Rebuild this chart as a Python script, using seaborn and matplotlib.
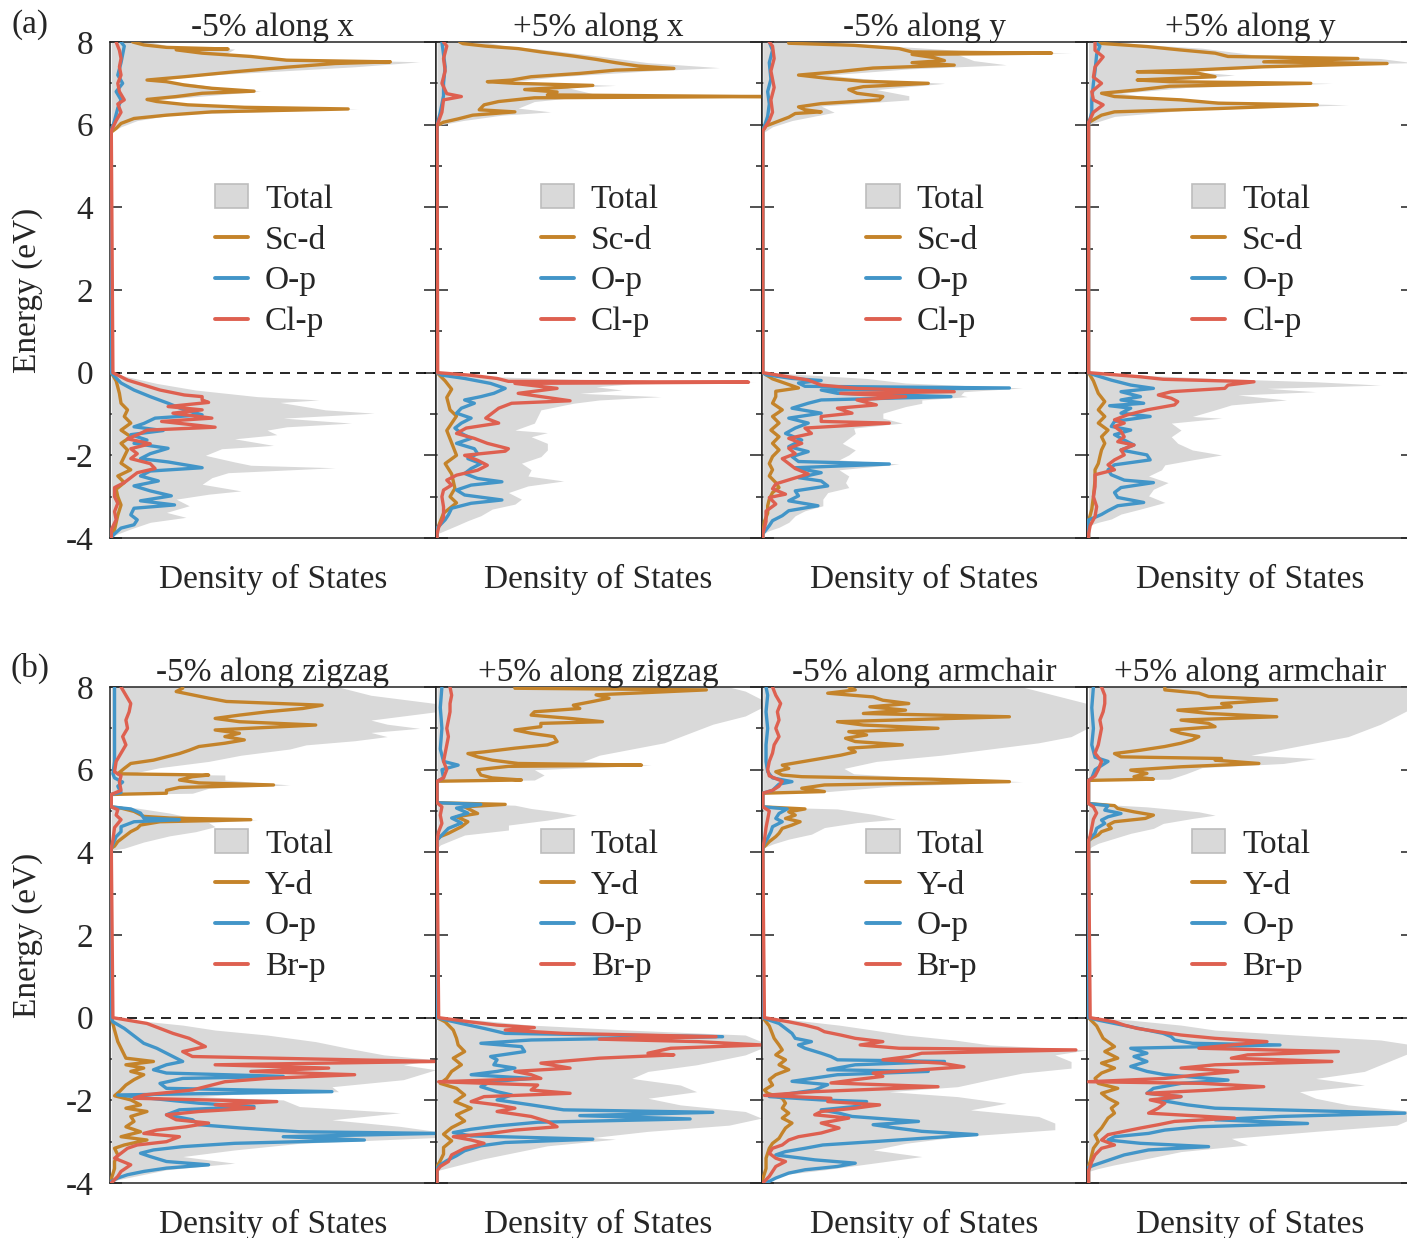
import numpy as np
import pandas as pd
import matplotlib
matplotlib.use("Agg")
import matplotlib.pyplot as plt
from matplotlib.ticker import MultipleLocator
from matplotlib.patches import Patch
from matplotlib.lines import Line2D
import seaborn as sns

sns.set_style("white")
plt.rcParams["font.family"] = ["Liberation Serif", "DejaVu Serif"]
plt.rcParams["axes.unicode_minus"] = False

# ---------------------------------------------------------------- data
# each list: (energy in eV, density of states in arbitrary units)
# ---- (a) ScOCl ----
a1_tot_vb = [(0, 0), (-0.1, 0.5), (-0.26, 1.4), (-0.42, 2.6), (-0.58, 4.5), (-0.66, 6.4), (-0.72, 5.2), (-0.9, 6.6),
             (-0.98, 8.1), (-1.1, 5.3), (-1.22, 7.4), (-1.31, 5.4), (-1.39, 4.8), (-1.5, 5.1), (-1.6, 3.8), (-1.76, 5.0),
             (-1.84, 3.4), (-2.0, 2.9), (-2.16, 3.8), (-2.24, 4.3), (-2.3, 6.9), (-2.42, 3.6), (-2.54, 3.1), (-2.7, 2.8),
             (-2.86, 4.0), (-2.94, 3.0), (-3.06, 2.0), (-3.22, 2.4), (-3.38, 1.7), (-3.5, 2.3), (-3.62, 1.2),
             (-3.78, 0.6), (-3.9, 0.2), (-3.98, 0)]
a1_tot_cb = [(5.82, 0), (5.95, 0.3), (6.1, 0.8), (6.25, 2.0), (6.38, 7.6), (6.45, 3.0), (6.6, 1.4), (6.81, 4.6),
             (6.9, 3.3), (7.0, 2.4), (7.08, 1.4), (7.2, 3.0), (7.4, 7.5), (7.52, 9.5), (7.6, 5.5), (7.7, 3.5),
             (7.83, 3.8), (7.9, 1.8), (8.0, 1.2)]
a1_d_vb = [(0, 0), (-0.2, 0.15), (-0.5, 0.25), (-0.74, 0.3), (-0.9, 0.5), (-1.06, 0.4), (-1.22, 0.6), (-1.39, 0.3),
           (-1.55, 0.6), (-1.71, 0.3), (-1.87, 0.5), (-2.03, 0.4), (-2.19, 0.3), (-2.35, 0.6), (-2.5, 0.2),
           (-2.66, 0.4), (-2.82, 0.15), (-3.0, 0.2), (-3.2, 0.3), (-3.45, 0.2), (-3.8, 0.1), (-3.95, 0)]
a1_d_cb = [(5.82, 0.0), (5.91, 0.15), (6.03, 0.3), (6.15, 0.7), (6.23, 1.7), (6.31, 3.1), (6.38, 7.3), (6.42, 4.1),
           (6.48, 2.35), (6.56, 1.4), (6.61, 1.1), (6.68, 2.0), (6.76, 2.8), (6.81, 4.4), (6.88, 3.1), (6.96, 2.25),
           (7.04, 1.7), (7.08, 1.1), (7.16, 2.25), (7.28, 3.8), (7.39, 5.4), (7.48, 6.9), (7.52, 8.6), (7.56, 5.4),
           (7.65, 4.3), (7.73, 2.8), (7.81, 2.0), (7.83, 3.6), (7.87, 1.7), (7.93, 1.0), (8.0, 0.66)]
a1_o_vb = [(0, 0), (-0.05, 0.05), (-0.25, 0.3), (-0.42, 0.7), (-0.58, 1.2), (-0.74, 1.75), (-0.9, 2.25), (-1.02, 2.8),
           (-1.1, 1.35), (-1.23, 1.0), (-1.31, 0.7), (-1.4, 1.6), (-1.5, 0.6), (-1.63, 1.1), (-1.71, 0.7), (-1.83, 1.75),
           (-1.96, 1.2), (-2.08, 0.9), (-2.16, 1.75), (-2.3, 2.8), (-2.38, 1.2), (-2.5, 0.9), (-2.62, 1.45),
           (-2.74, 0.7), (-2.86, 1.2), (-2.98, 1.85), (-3.1, 0.9), (-3.2, 1.95), (-3.28, 0.7), (-3.44, 0.6),
           (-3.56, 0.8), (-3.68, 0.7), (-3.76, 0.3), (-3.9, 0.1), (-3.98, 0)]
a1_o_cb = [(5.85, 0), (6.1, 0.1), (6.4, 0.2), (6.6, 0.3), (6.8, 0.15), (7.0, 0.35), (7.2, 0.2), (7.5, 0.3), (7.7, 0.35),
           (7.9, 0.4), (8.0, 0.3)]
a1_x_vb = [(0, 0.05), (-0.18, 0.5), (-0.3, 1.0), (-0.42, 1.5), (-0.54, 2.25), (-0.58, 2.8), (-0.66, 2.8), (-0.72, 3.0),
           (-0.82, 1.75), (-0.9, 2.8), (-0.98, 1.9), (-1.1, 3.1), (-1.18, 1.55), (-1.32, 3.2), (-1.39, 1.1),
           (-1.47, 0.9), (-1.6, 0.5), (-1.72, 1.2), (-1.84, 0.6), (-1.96, 0.8), (-2.08, 0.6), (-2.2, 1.2),
           (-2.32, 1.35), (-2.42, 0.8), (-2.54, 0.6), (-2.66, 0.4), (-2.78, 0.1), (-3.0, 0.1), (-3.16, 0.2),
           (-3.36, 0.1), (-3.56, 0.15), (-3.8, 0.0), (-3.96, 0.0)]
a1_x_cb = [(5.85, 0), (6.1, 0.15), (6.3, 0.3), (6.5, 0.2), (6.6, 0.4), (6.8, 0.25), (7.0, 0.2), (7.2, 0.3), (7.4, 0.25),
           (7.6, 0.3), (7.8, 0.25), (8.0, 0.15)]

a2_tot_vb = [(0, 0), (-0.1, 1.8), (-0.2, 5.9), (-0.23, 9.8), (-0.27, 6.0), (-0.34, 4.9), (-0.42, 5.7), (-0.5, 4.4),
             (-0.58, 6.9), (-0.66, 5.0), (-0.74, 4.2), (-0.9, 3.2), (-1.06, 3.1), (-1.22, 3.0), (-1.39, 2.4),
             (-1.45, 3.4), (-1.55, 2.9), (-1.71, 3.4), (-1.87, 3.4), (-2.03, 3.2), (-2.19, 2.6), (-2.35, 2.9),
             (-2.5, 2.8), (-2.62, 3.9), (-2.74, 2.8), (-2.9, 2.2), (-3.06, 2.6), (-3.18, 2.4), (-3.3, 1.7),
             (-3.46, 1.35), (-3.58, 0.95), (-3.7, 0.6), (-3.8, 0.3), (-3.9, 0)]
a2_tot_cb = [(5.98, 0), (6.1, 0.8), (6.23, 2.0), (6.31, 3.5), (6.4, 2.5), (6.56, 3.0), (6.64, 4.0), (6.68, 10.5),
             (6.75, 4.8), (6.9, 4.0), (6.95, 5.5), (7.04, 2.3), (7.16, 3.7), (7.3, 6.5), (7.38, 8.7), (7.5, 6.5),
             (7.66, 5.0), (7.8, 3.5), (7.92, 2.0), (8.0, 1.5)]
a2_d_vb = [(0, 0), (-0.2, 0.25), (-0.4, 0.45), (-0.6, 0.3), (-0.9, 0.4), (-1.05, 0.6), (-1.4, 0.3), (-1.7, 0.45),
           (-2.0, 0.6), (-2.2, 0.25), (-2.45, 0.45), (-2.8, 0.55), (-3.0, 0.4), (-3.15, 0.6), (-3.4, 0.2),
           (-3.6, 0.1), (-3.8, 0.0)]
a2_d_cb = [(5.98, 0), (6.06, 0.2), (6.14, 0.65), (6.23, 1.1), (6.31, 2.4), (6.36, 1.3), (6.48, 1.45), (6.56, 1.9),
           (6.65, 3.0), (6.68, 10.0), (6.72, 3.4), (6.79, 3.7), (6.85, 2.7), (6.95, 4.8), (7.0, 2.4), (7.04, 1.55),
           (7.08, 2.3), (7.16, 2.9), (7.24, 4.4), (7.32, 5.5), (7.36, 7.3), (7.42, 6.2), (7.5, 5.5), (7.58, 4.9),
           (7.66, 4.2), (7.76, 3.2), (7.84, 2.5), (7.9, 1.5), (7.96, 0.8), (8.0, 0.7)]
a2_o_vb = [(0, 0), (-0.06, 0.15), (-0.14, 0.85), (-0.26, 1.65), (-0.38, 2.1), (-0.5, 1.75), (-0.58, 1.35),
           (-0.66, 0.85), (-0.74, 1.15), (-0.86, 0.75), (-0.98, 0.6), (-1.1, 1.05), (-1.22, 0.75), (-1.34, 0.55),
           (-1.47, 0.75), (-1.59, 1.05), (-1.71, 0.6), (-1.84, 1.15), (-1.96, 1.25), (-2.08, 0.95), (-2.2, 1.35),
           (-2.32, 1.05), (-2.44, 0.85), (-2.56, 1.25), (-2.64, 2.0), (-2.72, 1.05), (-2.84, 0.6), (-2.96, 0.85),
           (-3.08, 2.0), (-3.16, 1.05), (-3.28, 0.45), (-3.44, 0.35), (-3.56, 0.25), (-3.68, 0.1), (-3.76, 0.0)]
a2_o_cb = [(5.98, 0), (6.3, 0.1), (6.7, 0.2), (7.0, 0.2), (7.4, 0.25), (7.7, 0.2), (8.0, 0.15)]
a2_x_vb = [(0, 0.02), (-0.06, 1.0), (-0.14, 1.85), (-0.21, 2.2), (-0.23, 9.6), (-0.26, 2.4), (-0.38, 3.7), (-0.5, 2.5),
           (-0.68, 4.1), (-0.74, 2.3), (-0.86, 1.9), (-0.98, 1.7), (-1.1, 1.5), (-1.22, 1.9), (-1.34, 0.9),
           (-1.47, 0.6), (-1.59, 1.15), (-1.71, 1.55), (-1.84, 2.2), (-1.9, 2.1), (-2.0, 0.85), (-2.12, 1.25),
           (-2.24, 1.55), (-2.36, 1.25), (-2.48, 0.6), (-2.6, 0.3), (-2.72, 0.45), (-2.84, 0.2), (-3.0, 0.15),
           (-3.25, 0.2), (-3.5, 0.2), (-3.74, 0.05), (-3.9, 0)]
a2_x_cb = [(5.98, 0), (6.3, 0.15), (6.6, 0.2), (6.68, 0.75), (6.75, 0.3), (7.0, 0.15), (7.3, 0.25), (7.6, 0.2),
           (7.9, 0.3), (8.0, 0.2)]

a3_tot_vb = [(0, 0), (-0.05, 1.3), (-0.14, 3.2), (-0.25, 4.4), (-0.37, 8.0), (-0.46, 6.2), (-0.54, 6.1), (-0.58, 6.3),
             (-0.66, 4.9), (-0.74, 4.9), (-0.82, 4.4), (-0.98, 3.7), (-1.1, 3.7), (-1.22, 4.3), (-1.34, 2.8),
             (-1.47, 2.85), (-1.59, 2.65), (-1.71, 2.45), (-1.87, 2.85), (-1.99, 2.65), (-2.11, 2.35), (-2.21, 4.2),
             (-2.35, 2.35), (-2.5, 2.65), (-2.66, 2.55), (-2.78, 2.65), (-2.9, 2.0), (-3.06, 1.85), (-3.22, 1.85),
             (-3.34, 1.3), (-3.46, 1.0), (-3.62, 0.8), (-3.74, 0.5), (-3.82, 0.2), (-3.9, 0)]
a3_tot_cb = [(5.8, 0), (5.95, 0.3), (6.1, 0.9), (6.3, 2.2), (6.45, 1.8), (6.6, 4.5), (6.7, 4.5), (6.85, 3.5), (7.0, 5.6),
             (7.1, 3.3), (7.2, 2.0), (7.35, 4.5), (7.45, 7.5), (7.55, 6.5), (7.7, 6.0), (7.73, 9.5), (7.8, 6.0),
             (7.9, 4.0), (8.0, 2.0)]
a3_d_vb = [(0, 0), (-0.15, 0.3), (-0.37, 1.1), (-0.45, 0.4), (-0.58, 0.4), (-0.74, 0.3), (-0.9, 0.6), (-1.06, 0.3),
           (-1.22, 0.5), (-1.39, 0.25), (-1.55, 0.5), (-1.71, 0.3), (-1.87, 0.5), (-2.03, 0.3), (-2.2, 0.2),
           (-2.35, 0.3), (-2.5, 0.2), (-2.66, 0.4), (-2.78, 0.5), (-2.9, 0.3), (-3.06, 0.2), (-3.22, 0.15),
           (-3.4, 0.15), (-3.6, 0.05), (-3.9, 0)]
a3_d_cb = [(5.85, 0), (5.97, 0.1), (6.09, 0.5), (6.18, 0.8), (6.27, 1.0), (6.31, 1.8), (6.36, 1.3), (6.43, 1.1),
           (6.51, 1.8), (6.6, 3.6), (6.68, 3.7), (6.76, 2.9), (6.85, 2.65), (6.92, 3.1), (7.0, 5.1), (7.05, 3.1),
           (7.12, 2.0), (7.2, 1.1), (7.28, 2.3), (7.37, 3.4), (7.44, 5.9), (7.5, 4.6), (7.55, 5.6), (7.62, 5.3),
           (7.7, 4.6), (7.73, 8.9), (7.76, 4.6), (7.84, 4.2), (7.92, 2.8), (7.97, 0.8), (8.0, 0.8)]
a3_o_vb = [(0, 0), (-0.05, 0.1), (-0.14, 0.9), (-0.19, 1.8), (-0.25, 1.1), (-0.33, 1.3), (-0.37, 7.6), (-0.42, 1.8),
           (-0.5, 2.3), (-0.58, 5.8), (-0.66, 1.8), (-0.74, 1.4), (-0.86, 0.9), (-0.98, 1.8), (-1.1, 0.8),
           (-1.22, 1.4), (-1.34, 1.0), (-1.47, 0.7), (-1.63, 1.2), (-1.79, 0.8), (-1.91, 1.4), (-2.03, 0.9),
           (-2.15, 1.1), (-2.21, 3.9), (-2.3, 1.0), (-2.42, 1.8), (-2.54, 1.1), (-2.62, 1.8), (-2.74, 2.0),
           (-2.86, 1.0), (-2.98, 1.1), (-3.1, 0.8), (-3.22, 1.7), (-3.34, 0.8), (-3.46, 0.6), (-3.58, 0.3),
           (-3.7, 0.2), (-3.8, 0.1), (-3.9, 0)]
a3_o_cb = [(5.85, 0), (6.2, 0.15), (6.5, 0.2), (6.8, 0.15), (7.1, 0.25), (7.5, 0.2), (7.8, 0.3), (8.0, 0.2)]
a3_x_vb = [(0, 0), (-0.1, 0.8), (-0.18, 1.4), (-0.3, 1.8), (-0.38, 2.9), (-0.46, 5.9), (-0.5, 2.4), (-0.58, 4.4),
           (-0.66, 2.9), (-0.78, 3.5), (-0.86, 2.3), (-0.98, 2.75), (-1.06, 1.8), (-1.18, 1.8), (-1.22, 3.9),
           (-1.34, 1.3), (-1.47, 1.5), (-1.59, 0.8), (-1.71, 1.2), (-1.83, 0.8), (-1.96, 1.0), (-2.08, 0.6),
           (-2.2, 0.8), (-2.32, 1.0), (-2.45, 1.4), (-2.57, 0.9), (-2.69, 0.4), (-2.81, 0.3), (-2.94, 0.7),
           (-3.02, 0.2), (-3.18, 0.4), (-3.35, 0.1), (-3.6, 0.1), (-3.9, 0)]
a3_x_cb = [(5.85, 0), (6.1, 0.2), (6.3, 0.3), (6.6, 0.25), (6.9, 0.35), (7.1, 0.3), (7.3, 0.25), (7.6, 0.35),
           (7.9, 0.3), (8.0, 0.2)]

a4_tot_vb = [(0, 0), (-0.05, 1.3), (-0.14, 3.9), (-0.22, 7.0), (-0.3, 9.0), (-0.38, 5.5), (-0.46, 7.0), (-0.54, 4.6),
             (-0.66, 6.1), (-0.78, 4.4), (-0.9, 3.9), (-1.06, 3.2), (-1.1, 4.1), (-1.22, 2.55), (-1.39, 2.85),
             (-1.55, 2.55), (-1.71, 2.75), (-1.87, 3.2), (-1.99, 4.1), (-2.11, 3.2), (-2.23, 2.35), (-2.35, 2.25),
             (-2.5, 1.85), (-2.66, 2.45), (-2.82, 2.0), (-2.98, 1.85), (-3.14, 2.35), (-3.3, 1.6), (-3.42, 1.0),
             (-3.54, 0.7), (-3.62, 0.3), (-3.7, 0)]
a4_tot_cb = [(6.0, 0), (6.2, 0.8), (6.35, 3.0), (6.48, 8.0), (6.55, 4.5), (6.65, 2.0), (6.76, 1.0), (6.9, 3.0),
             (7.0, 7.5), (7.08, 2.5), (7.2, 4.5), (7.3, 3.0), (7.45, 7.0), (7.5, 10.0), (7.6, 9.0), (7.7, 5.0),
             (7.85, 3.5), (7.95, 1.5), (8.0, 1.0)]
a4_d_vb = [(0, 0), (-0.2, 0.15), (-0.5, 0.3), (-0.7, 0.5), (-0.9, 0.3), (-1.06, 0.5), (-1.22, 0.3), (-1.39, 0.6),
           (-1.55, 0.4), (-1.71, 0.5), (-1.87, 0.4), (-2.03, 0.35), (-2.2, 0.3), (-2.35, 0.2), (-2.6, 0.2),
           (-3.0, 0.15), (-3.3, 0.1), (-3.6, 0.0)]
a4_d_cb = [(6.05, 0), (6.14, 0.2), (6.23, 0.4), (6.31, 0.8), (6.39, 4.0), (6.48, 7.05), (6.52, 4.0), (6.6, 2.85),
           (6.68, 0.8), (6.76, 0.4), (6.84, 1.5), (6.93, 2.5), (7.0, 6.85), (7.04, 2.5), (7.08, 1.5), (7.16, 3.9),
           (7.24, 3.4), (7.28, 1.5), (7.32, 3.2), (7.4, 5.4), (7.48, 9.2), (7.52, 5.4), (7.6, 8.3), (7.65, 4.3),
           (7.73, 3.9), (7.81, 2.8), (7.89, 1.8), (7.97, 0.3), (8.0, 0.3)]
a4_o_vb = [(0, 0), (-0.06, 0.2), (-0.18, 0.7), (-0.3, 1.3), (-0.38, 2.0), (-0.46, 1.0), (-0.58, 1.6), (-0.66, 1.0),
           (-0.74, 1.7), (-0.8, 0.65), (-0.86, 1.3), (-0.98, 1.0), (-1.06, 1.9), (-1.18, 0.8), (-1.3, 0.7),
           (-1.39, 1.3), (-1.5, 0.8), (-1.63, 1.1), (-1.75, 1.4), (-1.87, 1.0), (-1.99, 1.8), (-2.11, 1.9),
           (-2.23, 0.8), (-2.35, 0.6), (-2.47, 0.7), (-2.6, 1.1), (-2.66, 2.0), (-2.78, 1.0), (-2.9, 0.8),
           (-3.02, 0.9), (-3.14, 1.7), (-3.22, 0.9), (-3.34, 0.6), (-3.43, 0.4), (-3.5, 0.2), (-3.56, 0.0)]
a4_o_cb = [(6.0, 0), (6.3, 0.1), (6.6, 0.1), (7.0, 0.15), (7.3, 0.2), (7.7, 0.25), (7.9, 0.35), (8.0, 0.2)]
a4_x_vb = [(0, 0), (-0.1, 1.6), (-0.16, 2.3), (-0.22, 5.1), (-0.3, 4.3), (-0.38, 4.2), (-0.46, 2.55), (-0.54, 2.15),
           (-0.62, 2.55), (-0.7, 2.75), (-0.78, 2.65), (-0.9, 1.8), (-1.02, 1.2), (-1.14, 0.8), (-1.22, 1.1),
           (-1.3, 0.8), (-1.42, 1.0), (-1.55, 1.1), (-1.67, 0.9), (-1.75, 1.4), (-1.87, 1.0), (-1.99, 1.1),
           (-2.11, 0.8), (-2.23, 0.6), (-2.35, 0.8), (-2.47, 0.2), (-2.6, 0.2), (-2.76, 0.2), (-3.0, 0.15),
           (-3.24, 0.25), (-3.48, 0.2), (-3.7, 0.05), (-3.9, 0)]
a4_x_cb = [(6.05, 0), (6.3, 0.15), (6.48, 0.45), (6.6, 0.15), (6.8, 0.1), (7.0, 0.4), (7.15, 0.15), (7.4, 0.2),
           (7.64, 0.45), (7.8, 0.2), (8.0, 0.2)]

# ---- (b) YOBr ----
b1_tot_vb = [(0, 0), (-0.06, 0.7), (-0.18, 2.2), (-0.3, 3.2), (-0.42, 4.8), (-0.58, 6.3), (-0.74, 7.3), (-0.9, 8.4),
             (-1.02, 10.0), (-1.14, 9.0), (-1.26, 10.0), (-1.38, 9.5), (-1.5, 9.0), (-1.67, 6.8), (-1.79, 7.0),
             (-1.83, 4.3), (-1.91, 2.7), (-1.99, 5.3), (-2.15, 5.8), (-2.3, 8.9), (-2.47, 6.8), (-2.63, 8.9),
             (-2.75, 10.0), (-2.9, 10.0), (-3.04, 5.8), (-3.2, 3.8), (-3.36, 2.2), (-3.52, 3.8), (-3.68, 1.7),
             (-3.84, 0.7), (-3.92, 0.2), (-4.0, 0)]
b1_tot_cb = [(4.05, 0), (4.1, 0.4), (4.25, 1.0), (4.4, 1.8), (4.5, 2.6), (4.62, 3.2), (4.72, 3.0), (4.79, 4.5),
             (4.83, 2.5), (4.95, 1.8), (5.07, 0.8), (5.12, 0),
             (5.4, 0), (5.43, 2.5), (5.55, 3.0), (5.63, 5.5), (5.75, 3.5), (5.87, 3.5), (5.9, 0.6), (6.05, 1.5),
             (6.2, 3.0), (6.35, 4.0), (6.5, 5.5), (6.6, 6.0), (6.7, 7.5), (6.8, 8.5), (6.9, 8.0), (7.0, 9.5),
             (7.1, 8.5), (7.2, 8.0), (7.3, 9.0), (7.4, 10.0), (7.5, 10.0), (7.6, 10.0), (7.7, 9.0), (7.8, 8.0),
             (7.9, 7.5), (8.0, 7.0)]
b1_d_vb = [(0, 0), (-0.3, 0.1), (-0.58, 0.2), (-0.82, 0.35), (-0.98, 0.45), (-1.06, 1.3), (-1.14, 0.45), (-1.22, 1.0),
           (-1.3, 0.6), (-1.38, 1.0), (-1.5, 0.7), (-1.63, 0.45), (-1.79, 0.25), (-1.89, 0.1), (-1.99, 0.6),
           (-2.11, 0.9), (-2.19, 0.45), (-2.27, 1.1), (-2.39, 0.6), (-2.51, 0.7), (-2.64, 0.45), (-2.76, 0.9),
           (-2.88, 0.3), (-2.96, 1.1), (-3.08, 0.4), (-3.16, 0.1), (-3.32, 0.2), (-3.48, 0.1), (-3.65, 0.1),
           (-3.9, 0)]
b1_d_cb = [(4.1, 0), (4.15, 0.1), (4.26, 0.2), (4.38, 0.4), (4.5, 0.6), (4.58, 0.8), (4.66, 0.9), (4.74, 1.5),
           (4.79, 4.3), (4.83, 1.8), (4.87, 1.0), (4.99, 0.7), (5.07, 0.3), (5.1, 0),
           (5.4, 0), (5.43, 1.7), (5.5, 1.7), (5.57, 2.1), (5.63, 5.0), (5.68, 2.7), (5.75, 2.1), (5.83, 2.5),
           (5.87, 3.0), (5.9, 0.2), (6.03, 0.4), (6.15, 0.6), (6.23, 1.3), (6.31, 1.7), (6.39, 2.1), (6.47, 2.4),
           (6.56, 2.7), (6.64, 3.5), (6.72, 4.1), (6.8, 3.5), (6.88, 3.95), (6.96, 3.2), (7.08, 6.3), (7.16, 3.95),
           (7.24, 3.2), (7.32, 3.95), (7.4, 4.8), (7.48, 5.9), (7.56, 6.5), (7.65, 3.55), (7.73, 3.0), (7.81, 2.5),
           (7.89, 2.0), (7.97, 2.2), (8.0, 2.2)]
b1_o_vb = [(0, 0), (-0.1, 0.05), (-0.26, 0.4), (-0.38, 0.6), (-0.5, 0.8), (-0.62, 1.0), (-0.74, 1.4), (-0.86, 1.7),
           (-0.98, 2.0), (-1.06, 2.2), (-1.14, 1.7), (-1.26, 1.3), (-1.34, 1.7), (-1.42, 5.3), (-1.47, 2.2),
           (-1.59, 1.5), (-1.71, 1.7), (-1.79, 6.8), (-1.87, 0.2), (-1.95, 1.2), (-2.07, 2.7), (-2.15, 4.4),
           (-2.23, 2.1), (-2.35, 1.7), (-2.47, 2.5), (-2.59, 2.7), (-2.67, 4.0), (-2.76, 5.8), (-2.8, 10.0),
           (-2.88, 5.3), (-2.96, 7.8), (-3.04, 3.8), (-3.12, 2.2), (-3.2, 1.3), (-3.28, 0.9), (-3.36, 1.2),
           (-3.48, 1.7), (-3.56, 3.0), (-3.64, 1.7), (-3.72, 1.0), (-3.8, 0.5), (-3.88, 0.2), (-3.96, 0)]
b1_o_cb = [(4.1, 0), (4.2, 0.05), (4.38, 0.15), (4.5, 0.3), (4.62, 0.3), (4.74, 0.7), (4.79, 2.1), (4.83, 1.0),
           (4.95, 0.9), (5.05, 0.6), (5.1, 0),
           (5.4, 0), (5.45, 0.3), (5.6, 0.2), (5.7, 0.35), (5.8, 0.1), (5.9, 0.05), (6.2, 0.1), (6.6, 0.1),
           (7.0, 0.1), (7.5, 0.1), (7.8, 0.1), (8.0, 0.1)]
b1_x_vb = [(0, 0.05), (-0.14, 1.1), (-0.26, 1.5), (-0.38, 1.9), (-0.5, 2.4), (-0.62, 2.7), (-0.7, 2.9), (-0.82, 2.2),
           (-0.94, 2.5), (-1.06, 10.0), (-1.14, 3.2), (-1.22, 6.7), (-1.3, 4.3), (-1.38, 7.5), (-1.47, 4.8),
           (-1.55, 3.5), (-1.63, 3.1), (-1.75, 2.5), (-1.87, 1.0), (-1.95, 0.7), (-2.03, 5.1), (-2.11, 3.2),
           (-2.19, 4.4), (-2.27, 2.7), (-2.35, 1.7), (-2.47, 2.0), (-2.55, 3.0), (-2.64, 2.3), (-2.72, 1.4),
           (-2.8, 1.0), (-2.88, 2.1), (-3.0, 1.7), (-3.08, 0.8), (-3.16, 0.5), (-3.28, 0.3), (-3.4, 0.1),
           (-3.56, 0.6), (-3.72, 0.3), (-3.84, 0.2), (-3.96, 0.05)]
b1_x_cb = [(4.1, 0), (4.3, 0.05), (4.6, 0.1), (4.79, 0.3), (4.9, 0.15), (5.03, 0.2), (5.1, 0),
           (5.4, 0), (5.5, 0.3), (5.7, 0.25), (5.85, 0.3), (5.95, 0.1), (6.2, 0.15), (6.4, 0.3), (6.6, 0.45),
           (6.8, 0.35), (7.0, 0.5), (7.2, 0.45), (7.4, 0.55), (7.6, 0.6), (7.8, 0.45), (8.0, 0.3)]

b2_tot_vb = [(0, 0), (-0.06, 1.3), (-0.18, 2.9), (-0.3, 5.9), (-0.42, 9.5), (-0.58, 10.0), (-0.74, 10.0), (-0.9, 9.5),
             (-1.06, 8.5), (-1.14, 8.0), (-1.3, 6.5), (-1.47, 6.0), (-1.63, 7.5), (-1.79, 8.0), (-1.95, 6.5),
             (-2.11, 7.5), (-2.27, 9.5), (-2.43, 10.0), (-2.6, 9.0), (-2.75, 6.5), (-2.9, 4.8), (-2.94, 5.5),
             (-3.1, 3.4), (-3.26, 2.4), (-3.42, 1.4), (-3.54, 0.8), (-3.7, 0)]
b2_tot_cb = [(4.1, 0), (4.18, 0.1), (4.26, 0.35), (4.42, 0.85), (4.54, 2.2), (4.66, 2.2), (4.78, 3.4), (4.9, 4.3),
             (4.98, 3.7), (5.06, 2.9), (5.14, 2.4), (5.2, 0),
             (5.72, 0), (5.75, 3.0), (5.87, 3.3), (6.0, 3.0), (6.11, 6.6), (6.2, 4.5), (6.35, 5.0), (6.5, 6.0),
             (6.65, 7.0), (6.8, 7.5), (6.95, 8.0), (7.1, 8.5), (7.3, 9.5), (7.5, 10.0), (7.7, 10.0), (7.9, 9.5),
             (8.0, 9.0)]
b2_d_vb = [(0, 0), (-0.1, 0.25), (-0.3, 0.5), (-0.5, 0.6), (-0.66, 0.65), (-0.82, 0.85), (-0.98, 0.5), (-1.14, 0.75),
           (-1.3, 0.45), (-1.47, 0.3), (-1.59, 0.1), (-1.71, 0.6), (-1.87, 0.85), (-2.03, 0.55), (-2.19, 1.05),
           (-2.35, 0.6), (-2.5, 0.85), (-2.66, 0.45), (-2.82, 0.2), (-2.98, 0.45), (-3.14, 0.2), (-3.3, 0.2),
           (-3.46, 0.1), (-3.6, 0)]
b2_d_cb = [(4.3, 0), (4.38, 0.1), (4.46, 0.35), (4.54, 0.55), (4.62, 0.75), (4.74, 0.95), (4.86, 0.6), (4.94, 1.25),
           (5.02, 1.05), (5.1, 0.85), (5.16, 2.1), (5.2, 0),
           (5.72, 0), (5.75, 2.6), (5.8, 1.7), (5.87, 1.35), (6.0, 1.25), (6.08, 2.2), (6.11, 6.3), (6.15, 2.5),
           (6.23, 1.7), (6.31, 1.25), (6.39, 0.95), (6.43, 1.45), (6.52, 2.4), (6.6, 3.4), (6.68, 3.7), (6.8, 3.6),
           (6.88, 2.9), (6.96, 2.4), (7.04, 3.2), (7.12, 3.2), (7.16, 5.1), (7.24, 4.1), (7.32, 2.9), (7.4, 3.0),
           (7.48, 4.4), (7.56, 4.2), (7.65, 4.8), (7.73, 5.3), (7.81, 4.9), (7.93, 8.3), (7.97, 2.4), (8.0, 2.4)]
b2_o_vb = [(0, 0), (-0.06, 0.3), (-0.14, 0.75), (-0.26, 1.45), (-0.38, 2.1), (-0.46, 8.8), (-0.54, 2.9), (-0.62, 1.35),
           (-0.7, 2.6), (-0.82, 2.7), (-0.94, 1.65), (-1.02, 1.85), (-1.14, 1.75), (-1.22, 2.4), (-1.3, 1.85),
           (-1.38, 1.05), (-1.47, 2.9), (-1.55, 1.65), (-1.67, 1.35), (-1.79, 1.85), (-1.87, 2.3), (-1.99, 1.85),
           (-2.11, 2.9), (-2.23, 3.9), (-2.29, 8.5), (-2.37, 4.4), (-2.45, 7.8), (-2.53, 3.1), (-2.62, 1.85),
           (-2.7, 1.05), (-2.78, 0.5), (-2.86, 1.05), (-2.94, 4.8), (-3.02, 2.1), (-3.1, 1.35), (-3.22, 0.85),
           (-3.34, 0.6), (-3.46, 0.3), (-3.56, 0.1), (-3.65, 0)]
b2_o_cb = [(4.3, 0), (4.38, 0.1), (4.46, 0.2), (4.58, 0.35), (4.71, 0.75), (4.83, 0.45), (4.95, 0.95), (5.07, 0.6),
           (5.16, 1.35), (5.2, 0),
           (5.72, 0), (5.8, 0.2), (6.0, 0.15), (6.11, 0.65), (6.2, 0.2), (6.5, 0.1), (7.0, 0.15), (7.5, 0.1),
           (8.0, 0.15)]
b2_x_vb = [(0, 0.05), (-0.1, 1.0), (-0.18, 1.85), (-0.24, 3.0), (-0.3, 2.1), (-0.38, 3.9), (-0.46, 8.6), (-0.52, 5.0),
           (-0.58, 8.05), (-0.66, 10.0), (-0.74, 7.2), (-0.86, 6.5), (-0.9, 7.3), (-0.98, 5.0), (-1.1, 3.2),
           (-1.22, 4.1), (-1.3, 2.4), (-1.38, 2.9), (-1.47, 3.2), (-1.55, 0.05), (-1.63, 3.1), (-1.75, 2.9),
           (-1.83, 4.1), (-1.91, 1.45), (-2.03, 1.05), (-2.11, 1.85), (-2.19, 2.4), (-2.27, 1.85), (-2.39, 2.9),
           (-2.51, 3.4), (-2.64, 3.7), (-2.72, 2.4), (-2.8, 1.65), (-2.88, 0.5), (-2.96, 1.05), (-3.04, 1.45),
           (-3.16, 0.85), (-3.32, 0.45), (-3.48, 0.35), (-3.6, 0.1), (-3.7, 0)]
b2_x_cb = [(4.3, 0), (4.5, 0.05), (4.7, 0.15), (4.9, 0.1), (5.1, 0.15), (5.2, 0),
           (5.72, 0), (5.8, 0.2), (6.0, 0.3), (6.2, 0.2), (6.4, 0.25), (6.6, 0.3), (6.8, 0.35), (7.0, 0.3),
           (7.2, 0.35), (7.4, 0.4), (7.6, 0.4), (7.8, 0.45), (8.0, 0.4)]

b3_tot_vb = [(0, 0), (-0.06, 1.0), (-0.18, 2.35), (-0.3, 3.4), (-0.42, 4.4), (-0.54, 5.9), (-0.66, 7.0), (-0.78, 10.0),
             (-0.9, 9.0), (-1.06, 9.5), (-1.22, 9.5), (-1.34, 8.0), (-1.5, 7.0), (-1.67, 6.0), (-1.79, 3.9),
             (-1.91, 6.0), (-2.07, 7.5), (-2.23, 6.4), (-2.39, 8.5), (-2.55, 9.0), (-2.71, 9.0), (-2.88, 6.0),
             (-3.04, 4.4), (-3.2, 3.4), (-3.36, 4.9), (-3.52, 3.4), (-3.68, 1.9), (-3.8, 0.6), (-3.9, 0.2),
             (-4.0, 0)]
b3_tot_cb = [(4.1, 0), (4.2, 0.3), (4.32, 0.8), (4.44, 1.5), (4.6, 1.9), (4.72, 2.9), (4.8, 4.1), (4.92, 3.4),
             (5.05, 2.3), (5.1, 0),
             (5.43, 0), (5.47, 2.0), (5.6, 4.0), (5.71, 8.0), (5.8, 5.0), (5.9, 2.8), (6.03, 2.5), (6.2, 3.5),
             (6.35, 5.5), (6.5, 7.0), (6.65, 8.5), (6.8, 9.5), (7.0, 10.0), (7.2, 10.0), (7.4, 10.0), (7.6, 10.0),
             (7.8, 9.0), (8.0, 8.0)]
b3_d_vb = [(0, 0), (-0.2, 0.2), (-0.5, 0.35), (-0.66, 0.5), (-0.78, 0.6), (-0.9, 0.4), (-1.02, 0.7), (-1.14, 0.5),
           (-1.26, 0.8), (-1.38, 0.4), (-1.5, 0.2), (-1.63, 0.3), (-1.75, 0.05), (-1.83, 0.15), (-1.95, 0.6),
           (-2.07, 0.7), (-2.19, 0.6), (-2.31, 0.8), (-2.43, 0.6), (-2.55, 0.9), (-2.67, 0.7), (-2.79, 0.6),
           (-2.92, 0.5), (-3.04, 0.3), (-3.16, 0.2), (-3.28, 0.15), (-3.4, 0.1), (-3.65, 0.1), (-3.9, 0)]
b3_d_cb = [(4.1, 0), (4.18, 0.1), (4.26, 0.2), (4.38, 0.4), (4.46, 0.5), (4.58, 0.6), (4.66, 0.9), (4.74, 1.15),
           (4.82, 0.7), (4.9, 1.0), (4.98, 0.8), (5.05, 1.3), (5.1, 0),
           (5.43, 0), (5.47, 1.9), (5.55, 1.2), (5.63, 1.9), (5.71, 7.6), (5.77, 5.2), (5.83, 1.2), (5.87, 0.6),
           (5.95, 0.4), (6.03, 0.8), (6.11, 0.6), (6.19, 1.2), (6.27, 1.8), (6.35, 2.4), (6.43, 2.85), (6.52, 2.65),
           (6.6, 4.3), (6.68, 2.85), (6.76, 2.55), (6.84, 3.2), (6.92, 2.65), (7.0, 5.4), (7.08, 3.1), (7.16, 2.3),
           (7.28, 7.6), (7.36, 3.1), (7.44, 4.4), (7.52, 3.3), (7.6, 4.5), (7.68, 3.7), (7.76, 3.4), (7.85, 2.0),
           (7.93, 2.85), (8.0, 2.65)]
b3_o_vb = [(0, 0), (-0.06, 0.2), (-0.14, 0.5), (-0.26, 0.7), (-0.38, 0.9), (-0.5, 1.0), (-0.58, 1.5), (-0.66, 1.1),
           (-0.74, 1.3), (-0.86, 1.8), (-0.94, 2.1), (-1.02, 2.3), (-1.06, 5.6), (-1.14, 2.85), (-1.26, 2.0),
           (-1.3, 5.1), (-1.38, 2.3), (-1.54, 0.9), (-1.62, 2.0), (-1.75, 1.6), (-1.83, 0.9), (-1.91, 0.2),
           (-1.99, 1.8), (-2.03, 3.2), (-2.15, 2.85), (-2.23, 1.8), (-2.31, 2.35), (-2.39, 2.75), (-2.51, 4.8),
           (-2.59, 3.4), (-2.67, 4.1), (-2.75, 4.9), (-2.83, 6.6), (-2.92, 4.9), (-3.0, 3.4), (-3.08, 1.85),
           (-3.16, 1.3), (-3.24, 0.7), (-3.32, 0.4), (-3.44, 1.6), (-3.52, 2.85), (-3.6, 2.3), (-3.68, 1.3),
           (-3.76, 0.8), (-3.88, 0.4), (-3.96, 0.2)]
b3_o_cb = [(4.1, 0), (4.22, 0.05), (4.34, 0.15), (4.5, 0.25), (4.62, 0.3), (4.74, 0.6), (4.82, 0.4), (4.94, 0.5),
           (5.05, 0.75), (5.1, 0),
           (5.43, 0), (5.5, 0.3), (5.65, 0.5), (5.71, 0.9), (5.8, 0.3), (5.95, 0.15), (6.2, 0.1), (6.6, 0.1),
           (7.0, 0.15), (7.4, 0.1), (7.8, 0.15), (8.0, 0.1)]
b3_x_vb = [(0, 0.05), (-0.1, 0.8), (-0.18, 1.3), (-0.26, 1.7), (-0.34, 1.9), (-0.42, 2.4), (-0.5, 2.85), (-0.58, 3.7),
           (-0.66, 3.0), (-0.74, 4.2), (-0.78, 9.65), (-0.86, 4.9), (-0.94, 4.5), (-1.02, 3.7), (-1.1, 5.5),
           (-1.19, 6.2), (-1.26, 4.9), (-1.34, 3.4), (-1.42, 3.7), (-1.5, 2.85), (-1.58, 2.1), (-1.67, 5.4),
           (-1.79, 1.6), (-1.88, 0.05), (-1.95, 2.1), (-2.03, 2.0), (-2.11, 3.6), (-2.19, 2.85), (-2.27, 1.8),
           (-2.35, 1.6), (-2.43, 2.65), (-2.55, 1.8), (-2.67, 2.35), (-2.79, 1.8), (-2.88, 1.1), (-2.96, 0.8),
           (-3.08, 0.6), (-3.16, 0.3), (-3.28, 0.2), (-3.4, 0.4), (-3.48, 0.7), (-3.6, 0.4), (-3.72, 0.3),
           (-3.84, 0.2), (-3.96, 0.05)]
b3_x_cb = [(4.1, 0), (4.3, 0.05), (4.6, 0.1), (4.8, 0.15), (5.0, 0.2), (5.1, 0),
           (5.43, 0), (5.5, 0.3), (5.6, 0.5), (5.72, 0.6), (5.85, 0.2), (6.0, 0.15), (6.2, 0.2), (6.4, 0.3),
           (6.6, 0.35), (6.8, 0.5), (7.0, 0.4), (7.2, 0.5), (7.4, 0.45), (7.6, 0.55), (7.8, 0.4), (8.0, 0.3)]

b4_tot_vb = [(0, 0), (-0.06, 1.3), (-0.18, 2.85), (-0.3, 3.9), (-0.42, 6.4), (-0.54, 9.0), (-0.66, 10.0),
             (-0.82, 10.0), (-0.98, 9.5), (-1.14, 9.0), (-1.3, 8.5), (-1.47, 7.0), (-1.63, 8.5), (-1.79, 6.5),
             (-1.95, 7.0), (-2.11, 8.0), (-2.27, 10.0), (-2.43, 10.0), (-2.6, 9.5), (-2.75, 7.0), (-2.92, 4.4),
             (-3.08, 4.9), (-3.24, 2.85), (-3.4, 1.85), (-3.56, 0.8), (-3.65, 0.3), (-3.72, 0)]
b4_tot_cb = [(4.08, 0), (4.14, 0.1), (4.22, 0.3), (4.34, 0.8), (4.46, 1.3), (4.58, 2.0), (4.7, 2.3), (4.82, 3.2),
             (4.9, 3.9), (4.98, 3.4), (5.1, 1.8), (5.18, 0),
             (5.74, 0), (5.77, 2.5), (5.9, 3.0), (6.05, 3.5), (6.15, 6.0), (6.27, 7.0), (6.35, 5.0), (6.5, 6.0),
             (6.65, 7.0), (6.8, 8.0), (6.95, 8.5), (7.1, 9.0), (7.3, 9.5), (7.5, 10.0), (7.7, 10.0), (7.9, 10.0),
             (8.0, 10.0)]
b4_d_vb = [(0, 0), (-0.2, 0.25), (-0.5, 0.45), (-0.7, 0.8), (-0.82, 0.5), (-0.98, 0.9), (-1.1, 0.4), (-1.22, 0.8),
           (-1.34, 0.4), (-1.47, 0.2), (-1.59, 0.3), (-1.71, 0.9), (-1.83, 0.4), (-1.95, 0.6), (-2.07, 0.9),
           (-2.19, 0.7), (-2.31, 0.8), (-2.43, 0.6), (-2.55, 0.5), (-2.67, 0.4), (-2.84, 0.2), (-3.0, 0.3),
           (-3.16, 0.15), (-3.32, 0.1), (-3.48, 0.05), (-3.6, 0)]
b4_d_cb = [(4.28, 0), (4.34, 0.1), (4.42, 0.3), (4.5, 0.4), (4.58, 0.7), (4.66, 0.6), (4.74, 0.8), (4.82, 1.75),
           (4.9, 2.0), (4.98, 1.4), (5.06, 0.9), (5.13, 0.8), (5.18, 0),
           (5.74, 0), (5.77, 2.0), (5.83, 1.4), (5.91, 1.8), (5.99, 1.3), (6.07, 2.85), (6.15, 5.25), (6.23, 3.9),
           (6.27, 4.1), (6.31, 1.0), (6.39, 0.8), (6.47, 1.6), (6.56, 2.35), (6.64, 2.85), (6.72, 3.2), (6.8, 3.4),
           (6.88, 2.85), (6.96, 2.55), (7.04, 3.9), (7.12, 3.7), (7.2, 2.85), (7.28, 5.8), (7.36, 3.7), (7.44, 2.75),
           (7.52, 4.4), (7.6, 4.1), (7.69, 5.8), (7.77, 3.7), (7.85, 3.4), (7.93, 2.35), (8.0, 2.35)]
b4_o_vb = [(0, 0), (-0.06, 0.3), (-0.14, 0.8), (-0.22, 1.3), (-0.3, 1.8), (-0.38, 2.3), (-0.46, 2.55), (-0.54, 2.65),
           (-0.62, 3.2), (-0.66, 5.9), (-0.74, 1.3), (-0.86, 1.8), (-0.94, 1.4), (-1.06, 1.8), (-1.18, 1.3),
           (-1.3, 1.8), (-1.38, 2.35), (-1.51, 4.3), (-1.59, 2.85), (-1.71, 2.0), (-1.83, 1.8), (-1.91, 2.85),
           (-1.99, 2.15), (-2.11, 3.05), (-2.19, 3.9), (-2.31, 9.75), (-2.39, 5.9), (-2.47, 3.9), (-2.56, 6.75),
           (-2.64, 3.4), (-2.72, 2.35), (-2.8, 1.85), (-2.88, 0.8), (-2.96, 0.6), (-3.04, 1.6), (-3.12, 3.7),
           (-3.2, 1.85), (-3.32, 1.1), (-3.4, 0.8), (-3.48, 0.5), (-3.56, 0.2), (-3.62, 0)]
b4_o_cb = [(4.28, 0), (4.38, 0.1), (4.46, 0.2), (4.58, 0.25), (4.7, 0.5), (4.78, 0.4), (4.86, 0.6), (4.94, 1.0),
           (5.02, 0.5), (5.13, 0.6), (5.18, 0),
           (5.74, 0), (5.8, 0.1), (6.0, 0.2), (6.2, 0.6), (6.3, 0.2), (6.6, 0.1), (7.0, 0.15), (7.5, 0.1),
           (8.0, 0.15)]
b4_x_vb = [(0, 0.05), (-0.1, 0.8), (-0.18, 1.1), (-0.26, 1.5), (-0.34, 2.15), (-0.42, 2.85), (-0.5, 3.9), (-0.58, 5.5),
           (-0.66, 4.4), (-0.74, 3.4), (-0.82, 7.7), (-0.9, 4.9), (-0.98, 4.4), (-1.06, 7.5), (-1.14, 3.9),
           (-1.22, 2.85), (-1.3, 4.6), (-1.38, 3.4), (-1.47, 2.35), (-1.55, 0.0), (-1.59, 3.5), (-1.67, 5.4),
           (-1.75, 3.8), (-1.83, 1.8), (-1.91, 2.85), (-1.99, 1.9), (-2.07, 2.35), (-2.19, 2.15), (-2.31, 1.85),
           (-2.43, 4.5), (-2.51, 2.65), (-2.59, 2.15), (-2.67, 1.6), (-2.75, 1.1), (-2.83, 0.6), (-2.96, 0.4),
           (-3.08, 0.8), (-3.16, 0.4), (-3.32, 0.2), (-3.48, 0.1), (-3.6, 0.05), (-3.7, 0)]
b4_x_cb = [(4.28, 0), (4.4, 0.05), (4.6, 0.1), (4.8, 0.15), (4.95, 0.25), (5.1, 0.15), (5.18, 0),
           (5.74, 0), (5.85, 0.2), (6.0, 0.3), (6.2, 0.4), (6.4, 0.2), (6.6, 0.3), (6.8, 0.35), (7.0, 0.4),
           (7.2, 0.35), (7.4, 0.45), (7.6, 0.5), (7.8, 0.5), (8.0, 0.4)]

titles_a = ["-5% along x", "+5% along x", "-5% along y", "+5% along y"]
titles_b = ["-5% along zigzag", "+5% along zigzag", "-5% along armchair", "+5% along armchair"]
orbitals_a = ["Total", "Sc-d", "O-p", "Cl-p"]
orbitals_b = ["Total", "Y-d", "O-p", "Br-p"]
energy_ticks = [-4, -2, 0, 2, 4, 6, 8]

panels_a = [
    (a1_tot_vb + a1_tot_cb, a1_d_vb + a1_d_cb, a1_o_vb + a1_o_cb, a1_x_vb + a1_x_cb),
    (a2_tot_vb + a2_tot_cb, a2_d_vb + a2_d_cb, a2_o_vb + a2_o_cb, a2_x_vb + a2_x_cb),
    (a3_tot_vb + a3_tot_cb, a3_d_vb + a3_d_cb, a3_o_vb + a3_o_cb, a3_x_vb + a3_x_cb),
    (a4_tot_vb + a4_tot_cb, a4_d_vb + a4_d_cb, a4_o_vb + a4_o_cb, a4_x_vb + a4_x_cb),
]
panels_b = [
    (b1_tot_vb + b1_tot_cb, b1_d_vb + b1_d_cb, b1_o_vb + b1_o_cb, b1_x_vb + b1_x_cb),
    (b2_tot_vb + b2_tot_cb, b2_d_vb + b2_d_cb, b2_o_vb + b2_o_cb, b2_x_vb + b2_x_cb),
    (b3_tot_vb + b3_tot_cb, b3_d_vb + b3_d_cb, b3_o_vb + b3_o_cb, b3_x_vb + b3_x_cb),
    (b4_tot_vb + b4_tot_cb, b4_d_vb + b4_d_cb, b4_o_vb + b4_o_cb, b4_x_vb + b4_x_cb),
]

# ---------------------------------------------------------------- style
C_TOT = "#d9d9d9"
C_D = "#c4832a"
C_O = "#4295c8"
C_X = "#de6050"
FS = 24
E_MIN, E_MAX = -4.0, 8.0
X_MAX = 10.0


def series(pts):
    pts = sorted(pts)
    E = np.array([E_MIN] + [p[0] for p in pts])
    D = np.array([0.0] + [p[1] for p in pts])
    return E, D


fig = plt.figure(figsize=(14.07, 12.38), dpi=100)
W, H = 1407.0, 1238.0
ax_left = 110.0 / W
ax_w = 325.75 / W
ax_h = 496.0 / H
row_bottoms = [(H - 538.0) / H, (H - 1183.0) / H]

for r, (panels, titles, orbs) in enumerate([(panels_a, titles_a, orbitals_a), (panels_b, titles_b, orbitals_b)]):
    for c, (tot, dd, oo, xx) in enumerate(panels):
        ax = fig.add_axes([ax_left + c * ax_w, row_bottoms[r], ax_w, ax_h])
        Et, Dt = series(tot)
        ax.fill_betweenx(Et, 0, Dt, color=C_TOT, lw=0, zorder=1)
        ax.axhline(0, color="black", lw=1.2, ls=(0, (6, 4.2)), zorder=2)

        frames = []
        for name, pts in zip(orbs[1:], (dd, oo, xx)):
            E, D = series(pts)
            frames.append(pd.DataFrame({"E": E, "DOS": D, "orbital": name, "idx": np.arange(len(E))}))
        df = pd.concat(frames, ignore_index=True)
        sns.lineplot(data=df, x="DOS", y="E", hue="orbital", hue_order=orbs[1:],
                     palette=[C_D, C_O, C_X], sort=False, estimator=None, orient="y",
                     lw=2.4, legend=False, ax=ax, zorder=3)

        ax.set_xlim(-0.04, X_MAX)
        ax.set_ylim(E_MIN, E_MAX)
        ax.set_xticks([])
        ax.set_yticks(energy_ticks)
        ax.yaxis.set_minor_locator(MultipleLocator(1))
        ax.tick_params(axis="y", which="both", direction="in", left=True, right=True,
                       width=1.1, color="#222222", labelsize=FS, pad=12)
        ax.tick_params(axis="y", which="major", length=8.6)
        ax.tick_params(axis="y", which="minor", length=4.3)
        if c > 0:
            ax.tick_params(axis="y", labelleft=False)
        for s in ax.spines.values():
            s.set_linewidth(1.1)
            s.set_color("#222222")
        ax.set_ylabel("")
        ax.set_xlabel("Density of States", fontsize=FS, labelpad=18.5)
        ax.set_title(titles[c], fontsize=FS, pad=4.5)

        handles = [Patch(facecolor=C_TOT, edgecolor="#bdbdbd", lw=1.2),
                   Line2D([], [], color=C_D, lw=2.8),
                   Line2D([], [], color=C_O, lw=2.8),
                   Line2D([], [], color=C_X, lw=2.8)]
        ax.legend(handles, orbs, loc="center left", bbox_to_anchor=(0.322, 0.559), frameon=False,
                  fontsize=FS, handlelength=1.0, handletextpad=0.5, labelspacing=0.31,
                  borderpad=0, borderaxespad=0)

fig.text(30 / W, 1 - 25 / H, "(a)", ha="center", va="center", fontsize=FS)
fig.text(30 / W, 1 - 668 / H, "(b)", ha="center", va="center", fontsize=FS)
fig.text(28 / W, 1 - 290 / H, "Energy (eV)", rotation=90, ha="center", va="center", fontsize=FS)
fig.text(28 / W, 1 - 935 / H, "Energy (eV)", rotation=90, ha="center", va="center", fontsize=FS)

fig.savefig("out.png", dpi=100)
